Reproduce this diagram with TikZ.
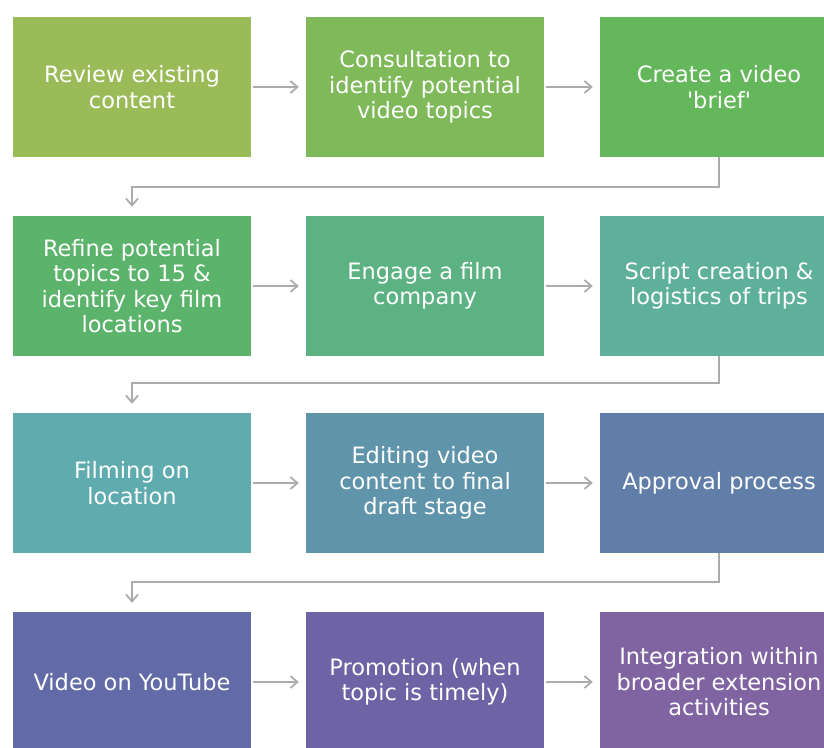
\documentclass[tikz,border=0pt]{standalone}
\usepackage{fontspec}
\setmainfont{DejaVu Sans}
\usetikzlibrary{arrows.meta}
% fill colours: a hue ramp from olive green to purple
\definecolor{c1}{RGB}{155,187,89}
\definecolor{c2}{RGB}{127,185,90}
\definecolor{c3}{RGB}{100,183,91}
\definecolor{c4}{RGB}{92,180,108}
\definecolor{c5}{RGB}{93,178,132}
\definecolor{c6}{RGB}{94,176,155}
\definecolor{c7}{RGB}{95,171,174}
\definecolor{c8}{RGB}{96,148,171}
\definecolor{c9}{RGB}{97,126,169}
\definecolor{c10}{RGB}{98,106,167}
\definecolor{c11}{RGB}{110,99,164}
\definecolor{c12}{RGB}{128,100,162}
\definecolor{linegray}{RGB}{172,172,172}
\begin{document}
\begin{tikzpicture}[x=1pt,y=-1pt,
  stepbox/.style={rectangle, minimum width=238pt, minimum height=140pt,
    inner sep=0pt, align=center, text=white,
    font=\fontsize{22.5}{25.5}\selectfont},
  flow/.style={draw=linegray, line width=1.8pt,
    -{Straight Barb[length=7pt,width=12pt]}},
  hflow/.style={flow, shorten <=2pt, shorten >=7pt},
  vflow/.style={flow, shorten >=9pt}]
\useasboundingbox (0,0) rectangle (824,747);
\clip (0,0) rectangle (824,747);

% row 1
\node[stepbox, fill=c1] (n1) at (132,87) {Review existing\\content};
\node[stepbox, fill=c2] (n2) at (425,87) {Consultation to\\identify potential\\video topics};
\node[stepbox, fill=c3] (n3) at (719,87) {Create a video\\\textquotesingle brief\textquotesingle};
% row 2
\node[stepbox, fill=c4] (n4) at (132,286) {Refine potential\\topics to 15 \&\\identify key film\\locations};
\node[stepbox, fill=c5] (n5) at (425,286) {Engage a film\\company};
\node[stepbox, fill=c6] (n6) at (719,286) {Script creation \&\\logistics of trips};
% row 3
\node[stepbox, fill=c7] (n7) at (132,483) {Filming on\\location};
\node[stepbox, fill=c8] (n8) at (425,483) {Editing video\\content to final\\draft stage};
\node[stepbox, fill=c9] (n9) at (719,483) {Approval process};
% row 4
\node[stepbox, fill=c10] (n10) at (132,682) {Video on YouTube};
\node[stepbox, fill=c11] (n11) at (425,682) {Promotion (when\\topic is timely)};
\node[stepbox, fill=c12] (n12) at (719,682) {Integration within\\broader extension\\activities};

% arrows within each row
\draw[hflow] (n1) -- (n2);
\draw[hflow] (n2) -- (n3);
\draw[hflow] (n4) -- (n5);
\draw[hflow] (n5) -- (n6);
\draw[hflow] (n7) -- (n8);
\draw[hflow] (n8) -- (n9);
\draw[hflow] (n10) -- (n11);
\draw[hflow] (n11) -- (n12);

% elbow connectors from the end of one row to the start of the next
\draw[vflow] (n3.south) -- ++(0,30) -| (n4.north);
\draw[vflow] (n6.south) -- ++(0,27) -| (n7.north);
\draw[vflow] (n9.south) -- ++(0,29) -| (n10.north);
\end{tikzpicture}
\end{document}
